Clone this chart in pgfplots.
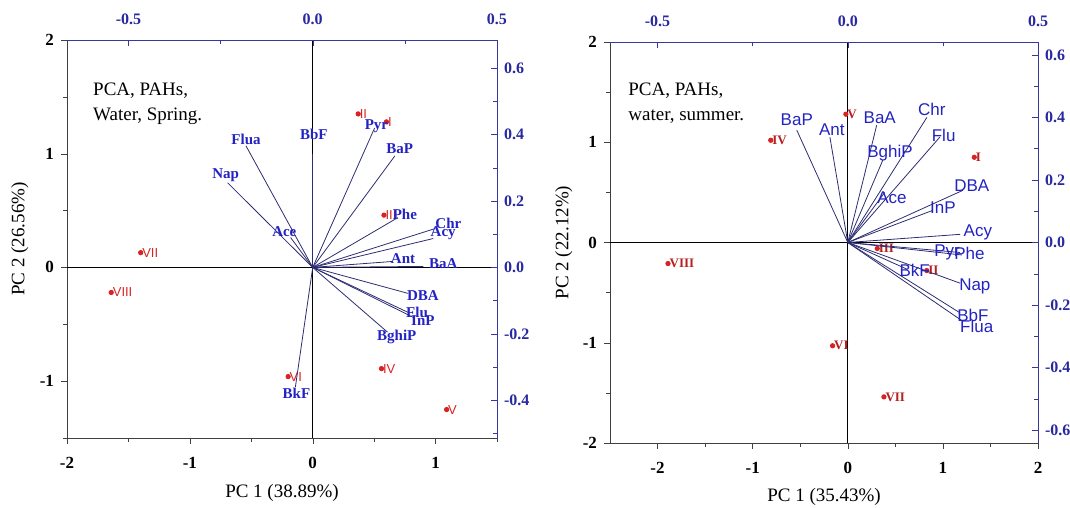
\documentclass[border=0pt]{standalone}
\usepackage{pgfplots}
\pgfplotsset{compat=1.18}
\usepackage{pgfplotstable}
\usepackage{fontspec}
\setmainfont{Liberation Serif}
\newfontfamily\arial{Liberation Sans}

\definecolor{lblue}{RGB}{35,35,195}
\definecolor{vline}{RGB}{45,45,115}
\definecolor{ablue}{RGB}{55,55,160}
\definecolor{tblue}{RGB}{40,40,160}
\definecolor{pred}{RGB}{215,35,35}

% scores, spring (PC coordinates)
\pgfplotstableread{
x y name
0.60 1.28 I
0.37 1.35 II
0.58 0.46 III
0.56 -0.89 IV
1.09 -1.25 V
-0.20 -0.96 VI
-1.40 0.13 VII
-1.64 -0.22 VIII
}\scoresL

% loadings, spring (vector end lx,ly ; label position tx,ty)
\pgfplotstableread{
lx ly tx ty name
-0.181 0.366 -0.181 0.386 Flua
-0.231 0.255 -0.236 0.279 Nap
0.000 0.342 0.003 0.402 BbF
0.168 0.420 0.173 0.426 Pyr
0.223 0.336 0.236 0.357 BaP
0.231 0.150 0.250 0.159 Phe
0.332 0.117 0.368 0.132 Chr
0.327 0.087 0.354 0.102 Acy
0.217 0.018 0.245 0.027 Ant
0.300 0.003 0.354 0.012 BaA
0.258 -0.078 0.299 -0.084 DBA
0.258 -0.135 0.283 -0.135 Flu
0.272 -0.150 0.299 -0.159 InP
0.203 -0.195 0.228 -0.210 BghiP
-0.047 -0.360 -0.044 -0.378 BkF
-0.060 0.090 -0.077 0.108 Ace
}\loadL

% scores, summer
\pgfplotstableread{
x y name
1.33 0.85 I
0.83 -0.28 II
0.31 -0.06 III
-0.81 1.02 IV
-0.02 1.28 V
-0.16 -1.03 VI
0.38 -1.54 VII
-1.89 -0.21 VIII
}\scoresR

% loadings, summer
\pgfplotstableread{
lx ly tx ty name
-0.134 0.359 -0.134 0.392 BaP
-0.047 0.337 -0.042 0.362 Ant
0.076 0.375 0.084 0.400 BaA
0.208 0.400 0.221 0.425 Chr
0.242 0.337 0.252 0.343 Flu
0.092 0.263 0.111 0.287 BghiP
0.097 0.160 0.116 0.144 Ace
0.303 0.167 0.326 0.183 DBA
0.224 0.103 0.250 0.112 InP
0.295 0.026 0.342 0.032 Acy
0.295 -0.032 0.261 -0.032 Pyr
0.300 -0.040 0.320 -0.035 Phe
0.155 -0.085 0.176 -0.090 BkF
0.295 -0.130 0.334 -0.141 Nap
0.295 -0.225 0.329 -0.234 BbF
0.300 -0.250 0.339 -0.269 Flua
}\loadR

\pgfplotsset{
  mainax/.style={scale only axis, axis x line*=bottom, axis y line*=left,
    tick align=outside, axis line style={black!75}, tick style={black!75},
    major tick length=3pt, minor tick length=2pt,
    tick label style={font=\fontsize{8.5}{9}\selectfont\bfseries},
    xticklabel style={yshift=-3pt},
    label style={font=\fontsize{9.5}{11}\selectfont},
    /pgf/number format/assume math mode=true},
  loadax/.style={scale only axis, axis x line*=top, axis y line*=right,
    tick align=inside, axis line style={ablue}, tick style={ablue},
    major tick length=3pt, minor tick length=2pt,
    tick label style={font=\fontsize{8}{9}\selectfont\bfseries, text=tblue},
    xticklabel style={yshift=4pt},
    /pgf/number format/fixed, /pgf/number format/fixed zerofill,
    /pgf/number format/precision=1,
    /pgf/number format/assume math mode=true},
}

\begin{document}
\begin{tikzpicture}
\useasboundingbox (0,0) rectangle (535pt,254pt);
% ---------------- left: spring ----------------
\begin{axis}[mainax, at={(33.5pt,35pt)}, anchor=south west,
  width=215pt, height=199pt,
  xmin=-2, xmax=1.5, ymin=-1.5, ymax=2,
  xtick={-2,-1,0,1}, minor xtick={-1.5,-0.5,0.5,1.5},
  ytick={-1,0,1,2}, minor ytick={-1.5,-0.5,0.5,1.5},
  xlabel={PC 1 (38.89\%)}, ylabel={PC 2 (26.56\%)},
  xlabel style={at={(axis description cs:0.5,-0.138)}, anchor=center},
  ylabel style={at={(axis description cs:-0.11,0.5)}, anchor=center}]
\draw[black] (axis cs:-2,0) -- (axis cs:1.5,0);
\draw[black] (axis cs:0,-1.5) -- (axis cs:0,2);
\addplot[only marks, mark=*, mark size=1.1pt, color=pred,
  nodes near coords, point meta=explicit symbolic,
  every node near coord/.append style={anchor=west, inner sep=0.6pt,
    font=\arial\fontsize{6.5}{7}\selectfont, text=pred}]
  table[x=x, y=y, meta=name]{\scoresL};
\node[anchor=north west, align=left, inner sep=0pt,
  font=\fontsize{9.5}{12.5}\selectfont] at (axis description cs:0.06,0.894)
  {PCA, PAHs,\\Water, Spring.};
\end{axis}
\begin{axis}[loadax, at={(33.5pt,35pt)}, anchor=south west,
  width=215pt, height=199pt, clip=false,
  xmin=-0.66667, xmax=0.5, ymin=-0.5137, ymax=0.6849,
  xtick={-0.5,0,0.5}, minor xtick={-0.25,0.25},
  ytick={-0.4,-0.2,0,0.2,0.4,0.6}, minor ytick={-0.5,-0.3,-0.1,0.1,0.3,0.5}]
\addplot[vline, mark=none, quiver={u=\thisrow{lx}, v=\thisrow{ly}}]
  table[x expr=0, y expr=0]{\loadL};
\addplot[draw=none, mark=none, nodes near coords, point meta=explicit symbolic,
  every node near coord/.append style={anchor=center, inner sep=0pt,
    font=\fontsize{7.5}{8}\selectfont\bfseries, text=lblue}]
  table[x=tx, y=ty, meta=name]{\loadL};
\end{axis}
% ---------------- right: summer ----------------
\begin{axis}[mainax, at={(305pt,32.5pt)}, anchor=south west,
  width=214pt, height=200.5pt,
  xmin=-2.5, xmax=2, ymin=-2, ymax=2,
  xtick={-2,-1,0,1,2}, minor xtick={-1.5,-0.5,0.5,1.5},
  ytick={-2,-1,0,1,2}, minor ytick={-1.5,-0.5,0.5,1.5},
  xlabel={PC 1 (35.43\%)}, ylabel={PC 2 (22.12\%)},
  xlabel style={at={(axis description cs:0.5,-0.135)}, anchor=center},
  ylabel style={at={(axis description cs:-0.108,0.5)}, anchor=center}]
\draw[black] (axis cs:-2.5,0) -- (axis cs:2,0);
\draw[black] (axis cs:0,-2) -- (axis cs:0,2);
\addplot[only marks, mark=*, mark size=1.1pt, color=pred,
  nodes near coords, point meta=explicit symbolic,
  every node near coord/.append style={anchor=west, inner sep=0.6pt,
    font=\fontsize{6.5}{7}\selectfont\bfseries, text=pred!85!black}]
  table[x=x, y=y, meta=name]{\scoresR};
\node[anchor=north west, align=left, inner sep=0pt,
  font=\fontsize{9.5}{12.5}\selectfont] at (axis description cs:0.042,0.90)
  {PCA, PAHs,\\water, summer.};
\end{axis}
\begin{axis}[loadax, at={(305pt,32.5pt)}, anchor=south west,
  width=214pt, height=200.5pt, clip=false,
  xmin=-0.625, xmax=0.5, ymin=-0.641, ymax=0.641,
  xtick={-0.5,0,0.5}, minor xtick={-0.25,0.25},
  ytick={-0.6,-0.4,-0.2,0,0.2,0.4,0.6}, minor ytick={-0.5,-0.3,-0.1,0.1,0.3,0.5}]
\addplot[vline, mark=none, quiver={u=\thisrow{lx}, v=\thisrow{ly}}]
  table[x expr=0, y expr=0]{\loadR};
\addplot[draw=none, mark=none, nodes near coords, point meta=explicit symbolic,
  every node near coord/.append style={anchor=center, inner sep=0pt,
    font=\arial\fontsize{8.5}{9}\selectfont, text=lblue}]
  table[x=tx, y=ty, meta=name]{\loadR};
\end{axis}
\end{tikzpicture}
\end{document}
